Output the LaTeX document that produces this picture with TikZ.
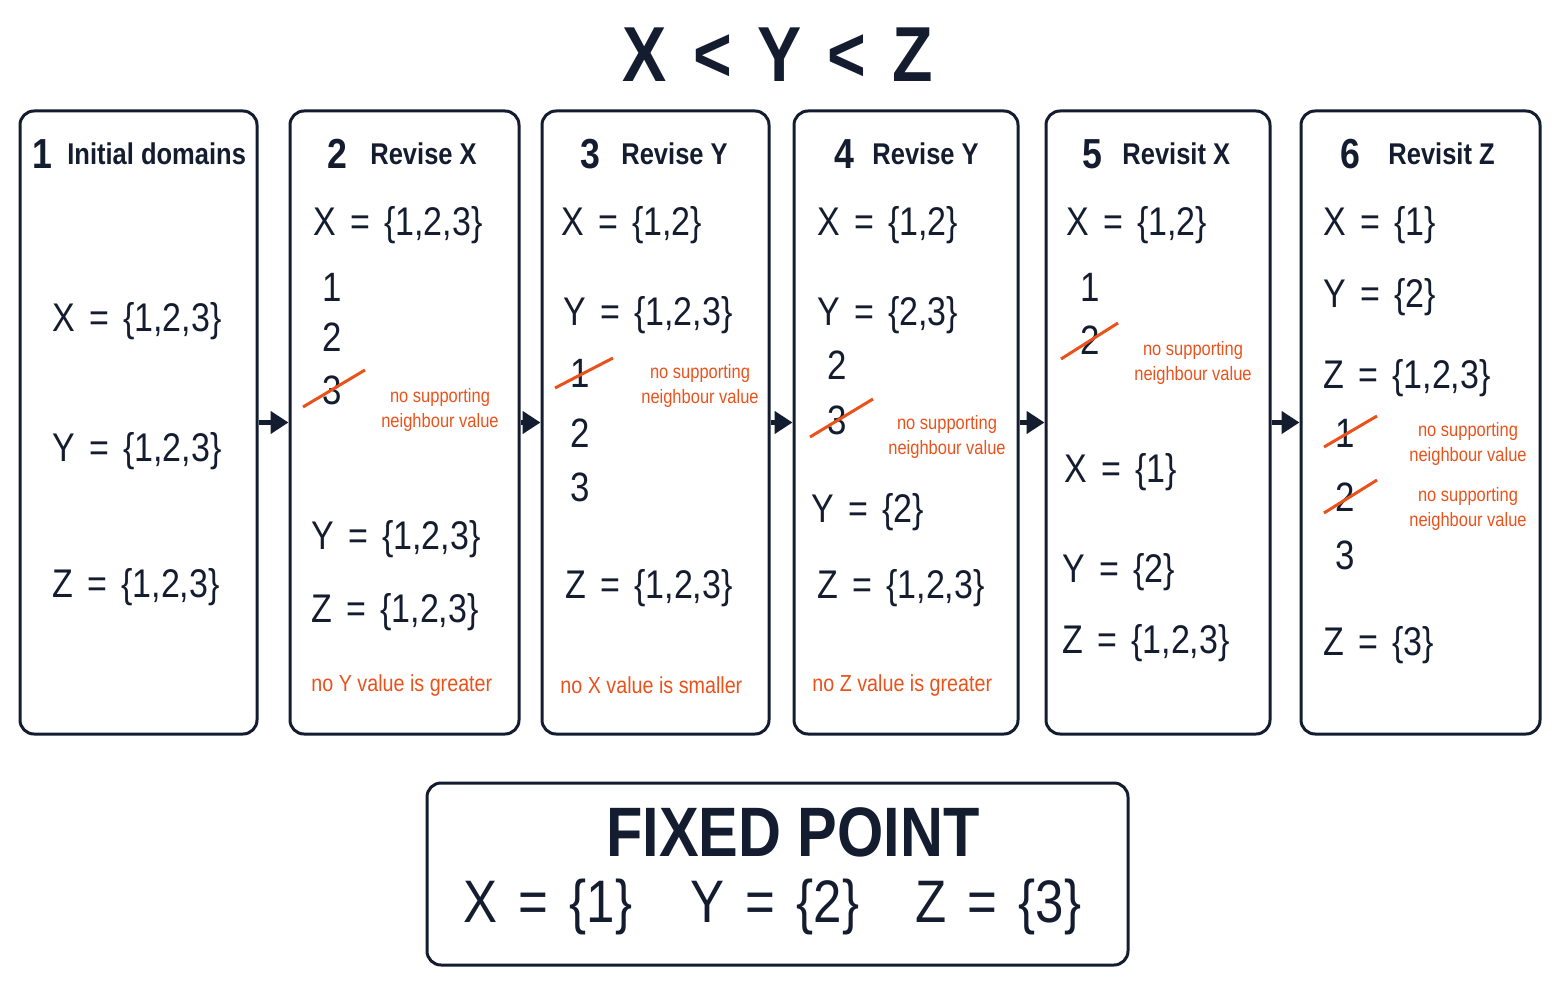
\documentclass[tikz,border=0pt]{standalone}
\usepackage{fontspec}
\setmainfont{Liberation Sans}[FakeStretch=0.85]
\newfontfamily\domfont{Liberation Sans}[FakeStretch=0.85,WordSpace=1.5]
\usetikzlibrary{fit,arrows.meta}
\definecolor{navy}{RGB}{20,28,48}
\definecolor{note}{RGB}{234,82,28}

\begin{document}
\begin{tikzpicture}[%
      x=0.5pt, y=-0.5pt,
      panel/.style={draw=navy, line width=1.5pt, rounded corners=7pt, inner sep=0pt},
      dom/.style={anchor=west, text=navy, inner sep=0pt, font=\domfont\fontsize{20}{24}\selectfont},
      val/.style={text=navy, inner sep=0pt, font=\fontsize{20.5}{25}\selectfont},
      num/.style={text=navy, inner sep=0pt, font=\bfseries\fontsize{21}{25}\selectfont},
      head/.style={anchor=west, text=navy, inner sep=0pt, font=\bfseries\fontsize{15}{19}\selectfont},
      why/.style={text=note, align=center, inner sep=0pt, font=\fontsize{9.7}{12.5}\selectfont},
      rule/.style={anchor=west, text=note, inner sep=0pt, font=\fontsize{11.6}{14}\selectfont},
      strike/.style={draw=note, line width=1.5pt},
      flow/.style={draw=navy, line width=2.5pt, -{Triangle[length=9pt,width=11pt]}},
      ]
      \useasboundingbox (0,0) rectangle (1563,1006);

      % title
      \node[text=navy, font=\bfseries\fontsize{39}{46}\selectfont] (title) at (778,55)
        {X\hspace{13pt}<\hspace{13pt}Y\hspace{13pt}<\hspace{13pt}Z};

      % the six panels
      \node[panel, fit={(20,111) (257,734)}] (b1) {};
      \node[panel, fit={(290,111) (519,734)}] (b2) {};
      \node[panel, fit={(542,111) (769,734)}] (b3) {};
      \node[panel, fit={(794,111) (1018,734)}] (b4) {};
      \node[panel, fit={(1046,111) (1270,734)}] (b5) {};
      \node[panel, fit={(1301,111) (1540,734)}] (b6) {};

      \draw[flow] (b1.east) -- (b2.west);
      \draw[flow] (b2.east) -- (b3.west);
      \draw[flow] (b3.east) -- (b4.west);
      \draw[flow] (b4.east) -- (b5.west);
      \draw[flow] (b5.east) -- (b6.west);

      % 1 initial domains
      \node[num] (n1) at (42,154) {1};
      \node[head] (h1) at (67,154) {Initial domains};
      \node[dom] (x1) at (52,321) {X = \{1,2,3\}};
      \node[dom] (y1) at (52,451) {Y = \{1,2,3\}};
      \node[dom] (z1) at (52,587) {Z = \{1,2,3\}};

      % 2 revise X
      \node[num] (n2) at (337,154) {2};
      \node[head] (h2) at (370,154) {Revise X};
      \node[dom] (x2) at (313,225) {X = \{1,2,3\}};
      \node[val] (v21) at (332,287) {1};
      \node[val] (v22) at (332,337) {2};
      \node[val] (v23) at (332,390) {3};
      \draw[strike] ([shift={(-29,17)}]v23.center) -- ([shift={(33,-20)}]v23.center);
      \node[why] (w2) at (440,410) {no supporting\\neighbour value};
      \node[dom] (y2) at (311,539) {Y = \{1,2,3\}};
      \node[dom] (z2) at (311,612) {Z = \{1,2,3\}};
      \node[rule] (r2) at (311,685) {no Y value is greater};

      % 3 revise Y
      \node[num] (n3) at (590,154) {3};
      \node[head] (h3) at (621,154) {Revise Y};
      \node[dom] (x3) at (561,225) {X = \{1,2\}};
      \node[dom] (y3) at (563,315) {Y = \{1,2,3\}};
      \node[val] (v31) at (580,373) {1};
      \draw[strike] ([shift={(-25,15)}]v31.center) -- ([shift={(33,-15)}]v31.center);
      \node[why] (w3) at (700,386) {no supporting\\neighbour value};
      \node[val] (v32) at (580,433) {2};
      \node[val] (v33) at (580,487) {3};
      \node[dom] (z3) at (565,588) {Z = \{1,2,3\}};
      \node[rule] (r3) at (560,685) {no X value is smaller};

      % 4 revise Y
      \node[num] (n4) at (844,154) {4};
      \node[head] (h4) at (872,154) {Revise Y};
      \node[dom] (x4) at (817,225) {X = \{1,2\}};
      \node[dom] (y4) at (817,315) {Y = \{2,3\}};
      \node[val] (v41) at (837,365) {2};
      \node[val] (v42) at (837,420) {3};
      \draw[strike] ([shift={(-27,17)}]v42.center) -- ([shift={(36,-21)}]v42.center);
      \node[why] (w4) at (947,437) {no supporting\\neighbour value};
      \node[dom] (y4b) at (811,512) {Y = \{2\}};
      \node[dom] (z4) at (817,588) {Z = \{1,2,3\}};
      \node[rule] (r4) at (812,685) {no Z value is greater};

      % 5 revisit X
      \node[num] (n5) at (1092,154) {5};
      \node[head] (h5) at (1122,154) {Revisit X};
      \node[dom] (x5) at (1066,225) {X = \{1,2\}};
      \node[val] (v51) at (1090,287) {1};
      \node[val] (v52) at (1090,340) {2};
      \draw[strike] ([shift={(-29,19)}]v52.center) -- ([shift={(28,-17)}]v52.center);
      \node[why] (w5) at (1193,363) {no supporting\\neighbour value};
      \node[dom] (x5b) at (1064,472) {X = \{1\}};
      \node[dom] (y5) at (1062,572) {Y = \{2\}};
      \node[dom] (z5) at (1062,643) {Z = \{1,2,3\}};

      % 6 revisit Z
      \node[num] (n6) at (1350,154) {6};
      \node[head] (h6) at (1388,154) {Revisit Z};
      \node[dom] (x6) at (1323,225) {X = \{1\}};
      \node[dom] (y6) at (1323,297) {Y = \{2\}};
      \node[dom] (z6) at (1323,378) {Z = \{1,2,3\}};
      \node[val] (v61) at (1345,433) {1};
      \draw[strike] ([shift={(-21,14)}]v61.center) -- ([shift={(32,-17)}]v61.center);
      \node[why] (w61) at (1468,444) {no supporting\\neighbour value};
      \node[val] (v62) at (1345,497) {2};
      \draw[strike] ([shift={(-21,16)}]v62.center) -- ([shift={(32,-17)}]v62.center);
      \node[why] (w62) at (1468,509) {no supporting\\neighbour value};
      \node[val] (v63) at (1345,555) {3};
      \node[dom] (z6b) at (1323,645) {Z = \{3\}};

      % fixed point
      \node[panel, fit={(427,783) (1128,965)}] (fp) {};
      \node[text=navy, font=\bfseries\fontsize{35}{40}\selectfont] (fpt) at (793,832) {FIXED POINT};
      \node[dom, font=\domfont\fontsize{30}{36}\selectfont] (fx) at (463,907) {X = \{1\}};
      \node[dom, font=\domfont\fontsize{30}{36}\selectfont] (fy) at (690,907) {Y = \{2\}};
      \node[dom, font=\domfont\fontsize{30}{36}\selectfont] (fz) at (915,907) {Z = \{3\}};
\end{tikzpicture}
\end{document}
